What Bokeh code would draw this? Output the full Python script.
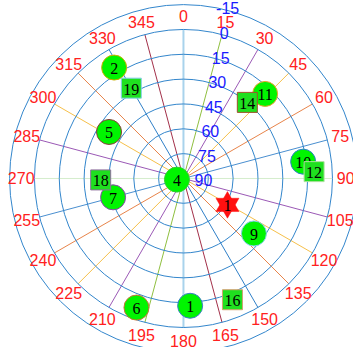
import numpy as np
from bokeh.plotting import figure
from bokeh.models import Range1d, ColumnDataSource
from bokeh.core.properties import value
from bokeh.embed import file_html
from bokeh.resources import INLINE

# Sky plot: radius = 90 - elevation, azimuth clockwise from north
ring_elevations = [75, 60, 45, 30, 15, 0, -15]
elev_labels = ["90", "75", "60", "45", "30", "15", "0", "-15"]
elev_label_values = [90, 75, 60, 45, 30, 15, 0, -15]
azimuth_labels = [str(a) for a in range(0, 360, 15)]
spoke_azimuths = list(range(0, 180, 15))
spoke_colors = ["#a9d3ec", "#8fbf3f", "#9b59b6", "#f6c04a", "#e8844a", "#4a8fd0",
                "#d4edcc", "#9b59b6", "#f6c04a", "#e8844a", "#2f7fc8", "#a3304a"]

# Satellites shown as circles
circle_prn = ["2", "5", "7", "4", "6", "1", "9", "10", "11"]
circle_az = [328, 302, 255, 260, 200, 177, 128, 82, 44]
circle_el = [11, 37, 46, 86, 7, 13, 36, 17, 19]
circle_edge = ["#c9b000", "#8b3a3a", "#8e44ad", "#33cc33", "#c8743a",
               "#3a7dc9", "#87ceeb", "#2a7fc9", "#f0a030"]

# Satellites shown as squares
square_prn = ["19", "18", "16", "12", "14"]
square_az = [330, 269, 158, 87, 40]
square_el = [27, 40, 11, 11, 30]
square_edge = ["#87ceeb", "#8e6e9e", "#d2a070", "#b0e0a0", "#a0522d"]

# Highlighted satellite (star)
star_prn = ["1"]
star_az = [121]
star_el = [59]


def to_xy(az, el):
    az = np.radians(np.asarray(az, dtype=float))
    r = 90.0 - np.asarray(el, dtype=float)
    return r * np.sin(az), r * np.cos(az)


p = figure(width=353, height=347, output_backend="svg", toolbar_location=None,
           x_range=Range1d(-110.5, 102.7), y_range=Range1d(-102.1, 107.5),
           min_border=0)
p.axis.visible = False
p.grid.visible = False
p.outline_line_color = None
p.background_fill_color = "white"

# Spokes: full diameters out to the horizon ring
for az, col in zip(spoke_azimuths, spoke_colors):
    x0, y0 = to_xy([az], [0])
    x1, y1 = to_xy([az + 180], [0])
    w = 2 if az == 0 else 1
    p.line([x0[0], x1[0]], [y0[0], y1[0]], line_color=col, line_width=w)

# Elevation rings
ring_r = [90 - e for e in ring_elevations]
p.circle(x=[0] * len(ring_r), y=[0] * len(ring_r), radius=ring_r,
         fill_color=None, line_color="#3386cc", line_width=1)

# Azimuth labels
lx, ly = to_xy([int(a) for a in azimuth_labels], [-8] * len(azimuth_labels))
p.text(x=lx, y=ly, text=azimuth_labels, text_color="#ff2020",
       text_font=value("Liberation Sans"), text_font_size="16px",
       text_align="center", text_baseline="middle")

# Elevation labels along a line slightly east of north
ex, ey = to_xy([8] * len(elev_label_values), elev_label_values)
p.text(x=ex, y=ey, text=elev_labels, text_color="#1a1aff",
       text_font=value("Liberation Sans"), text_font_size="16px",
       text_align="center", text_baseline="middle", x_offset=20, y_offset=2)

# Circles
cx, cy = to_xy(circle_az, circle_el)
csrc = ColumnDataSource(dict(x=cx, y=cy, t=circle_prn, edge=circle_edge))
p.scatter("x", "y", source=csrc, marker="circle", size=25,
          fill_color="#00f500", line_color="edge", line_width=1)
p.text("x", "y", text="t", source=csrc, text_color="black",
       text_font=value("Liberation Serif"), text_font_size="16px",
       text_align="center", text_baseline="middle", y_offset=1)

# Squares
sx, sy = to_xy(square_az, square_el)
ssrc = ColumnDataSource(dict(x=sx, y=sy, t=square_prn, edge=square_edge))
p.scatter("x", "y", source=ssrc, marker="square", size=20,
          fill_color="#1fe01f", line_color="edge", line_width=1)
p.text("x", "y", text="t", source=ssrc, text_color="black",
       text_font=value("Liberation Serif"), text_font_size="16px",
       text_align="center", text_baseline="middle", y_offset=1)

# Six-pointed star from two overlapping triangles
tx, ty = to_xy(star_az, star_el)
for mk in ["triangle", "inverted_triangle"]:
    p.scatter(tx, ty, marker=mk, size=23, fill_color="#ff1010",
              line_color="#ff1010", line_width=0.5)
p.text(tx, ty, text=star_prn, text_color="black",
       text_font=value("Liberation Serif"), text_font_size="16px",
       text_align="center", text_baseline="middle", y_offset=1)

open("out.html", "w").write(file_html(p, INLINE))
